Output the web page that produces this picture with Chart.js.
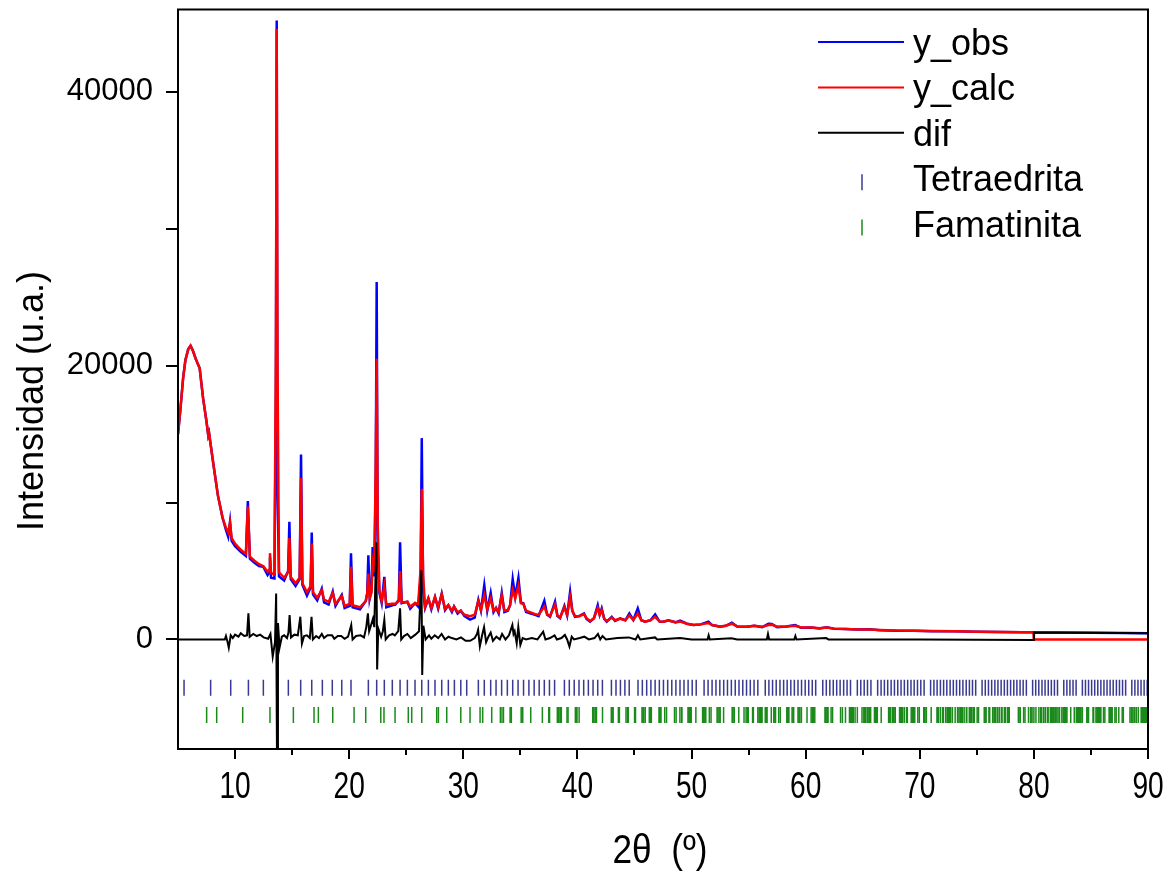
<!DOCTYPE html>
<html lang="es">
<head>
<meta charset="utf-8">
<title>Refinamiento Rietveld</title>
<script src="https://cdn.jsdelivr.net/npm/chart.js@4.4.1/dist/chart.umd.min.js"></script>
<style>
  html, body { margin: 0; padding: 0; background: #fff; }
  #wrap { width: 1171px; height: 873px; }
</style>
</head>
<body>
<div id="wrap"><canvas id="xrd" width="1171" height="873"></canvas></div>
<script>
// 2theta (deg) for the observed / calculated profiles
const twoTheta = [
  5.00, 5.20, 5.45, 5.65, 5.90, 6.10, 6.30, 6.55, 6.90, 7.20, 7.50, 7.65, 7.72, 7.85, 8.10, 8.50, 8.90,
  9.20, 9.40, 9.56, 9.70, 10.00, 10.50, 10.95, 11.12, 11.30, 11.70, 12.10, 12.48, 12.85, 13.00, 13.06,
  13.15, 13.45, 13.58, 13.65, 13.72, 13.85, 14.30, 14.65, 14.76, 14.88, 15.30, 15.66, 15.78, 15.90,
  16.30, 16.62, 16.72, 16.83, 17.20, 17.60, 17.80, 18.20, 18.56, 18.80, 19.35, 19.60, 20.05, 20.16,
  20.30, 20.95, 21.45, 21.58, 21.68, 21.80, 21.95, 22.06, 22.20, 22.33, 22.41, 22.50, 22.65, 22.85,
  23.08, 23.25, 23.78, 24.05, 24.35, 24.46, 24.60, 25.10, 25.35, 25.77, 26.05, 26.26, 26.36, 26.48,
  26.65, 26.94, 27.20, 27.52, 27.80, 28.11, 28.40, 28.69, 29.00, 29.19, 29.50, 29.78, 30.10, 30.59,
  31.00, 31.32, 31.55, 31.84, 32.10, 32.40, 32.65, 32.87, 33.10, 33.37, 33.60, 33.90, 34.10, 34.33,
  34.55, 34.83, 35.05, 35.26, 35.50, 35.85, 36.29, 36.60, 37.10, 37.35, 37.60, 38.04, 38.25, 38.48,
  38.86, 39.10, 39.36, 39.55, 39.79, 40.15, 40.58, 40.80, 41.11, 41.45, 41.78, 41.95, 42.13, 42.35,
  42.57, 43.01, 43.30, 43.74, 44.20, 44.55, 44.90, 45.29, 45.60, 45.93, 46.40, 46.81, 47.20, 47.53,
  47.97, 48.60, 49.00, 49.60, 50.17, 50.80, 51.48, 51.80, 52.50, 53.00, 53.53, 54.00, 54.84, 55.50,
  56.20, 56.74, 57.03, 57.50, 58.30, 59.08, 59.60, 60.50, 61.20, 61.85, 62.50, 63.50, 64.50, 65.60,
  66.50, 68.00, 69.50, 71.00, 73.00, 75.00, 77.00, 79.00, 79.97, 80.00, 82.00, 85.00, 88.00, 90.00
];

const yObs = [
  15000, 16700, 19100, 20400, 21200, 21450, 21100, 20500, 19800, 17600, 15900, 14900, 15100, 14300, 12800, 10500, 8900,
  8000, 7500, 8600, 7200, 6800, 6400, 6100, 10100, 5900, 5600, 5350, 5300, 4700, 4900, 6000,
  4500, 4450, 18000, 45200, 11000, 4600, 4300, 5000, 8600, 4400, 3900, 4400, 13500, 4000,
  3200, 3800, 7800, 3300, 2850, 3700, 2700, 2550, 3500, 2450, 3250, 2300, 2450, 6300,
  2350, 2200, 2800, 3400, 6150, 3000, 3600, 6750, 4600, 12000, 26100, 6500, 3400, 2650,
  4570, 2350, 2500, 2550, 2900, 7100, 2650, 2750, 2250, 2650, 2400, 4500, 14700, 3600,
  2300, 3000, 2200, 3100, 2250, 3350, 2150, 2500, 2000, 2400, 1900, 2100, 1700, 1450,
  1600, 2900, 2100, 3960, 2100, 3400, 2000, 2300, 1900, 3400, 2000, 2100, 2500, 4400,
  3100, 4500, 2700, 2650, 2000, 1900, 1800, 1700, 2820, 1800, 1650, 2750, 1700, 1550,
  2450, 1750, 3480, 2100, 1650, 1700, 1900, 1500, 1300, 1550, 2500, 1800, 2270, 1500,
  1300, 1650, 1350, 1540, 1400, 1900, 1420, 2270, 1400, 1290, 1400, 1830, 1300, 1290,
  1400, 1250, 1370, 1150, 1050, 1100, 1290, 1050, 930, 1000, 1220, 950, 930, 1000,
  900, 1150, 1130, 900, 950, 1050, 850, 880, 800, 890, 780, 760, 720, 740,
  680, 640, 640, 600, 590, 560, 550, 530, 520, 515, 500, 480, 470, 460
];

const yCalc = [
  15000, 16700, 19100, 20400, 21200, 21450, 21100, 20500, 19800, 17600, 15900, 14900, 15100, 14300, 12800, 10500, 8900,
  8150, 7800, 8500, 7400, 7000, 6550, 6250, 9700, 6050, 5750, 5500, 5350, 4950, 5100, 6300,
  4850, 4750, 21000, 44600, 20000, 4900, 4500, 4900, 7400, 4550, 4100, 4500, 11800, 4100,
  3450, 3900, 7000, 3450, 3050, 3600, 2900, 2750, 3400, 2600, 3150, 2450, 2600, 5300,
  2500, 2350, 2800, 3300, 4800, 3000, 3400, 5600, 4900, 13000, 20500, 8500, 3600, 2800,
  3900, 2550, 2600, 2600, 2800, 5000, 2700, 2750, 2400, 2650, 2600, 5200, 11000, 4600,
  2400, 3000, 2300, 3100, 2350, 3300, 2250, 2500, 2100, 2400, 2000, 2100, 1800, 1700,
  1800, 2800, 2150, 3240, 2200, 3000, 2100, 2300, 2000, 3200, 2100, 2150, 2500, 3600,
  3000, 3900, 2650, 2600, 2100, 2000, 1850, 1800, 2400, 1850, 1700, 2550, 1750, 1600,
  2350, 1800, 3100, 2100, 1700, 1700, 1850, 1550, 1350, 1550, 2300, 1800, 2150, 1500,
  1350, 1600, 1400, 1500, 1400, 1750, 1420, 1900, 1400, 1300, 1400, 1650, 1300, 1290,
  1380, 1250, 1300, 1150, 1050, 1100, 1200, 1050, 950, 1000, 1150, 950, 930, 1000,
  920, 1050, 1080, 920, 950, 1000, 870, 880, 820, 880, 790, 770, 730, 730,
  690, 650, 640, 610, 590, 570, 550, 530, 520, 0, 0, 0, 0, 0
];

// difference curve (obs - calc)
const difTheta = [
  5.00, 9.10, 9.20, 9.35, 9.45, 9.62, 9.80, 10.00, 10.30, 10.50, 10.80, 11.05, 11.17, 11.28, 11.60,
  11.90, 12.20, 12.50, 12.90, 13.10, 13.30, 13.50, 13.60, 13.68, 13.76, 13.90, 14.10, 14.30, 14.55,
  14.68, 14.78, 14.90, 15.20, 15.50, 15.72, 15.86, 16.05, 16.30, 16.55, 16.70, 16.82, 17.10, 17.35,
  17.60, 17.80, 18.10, 18.50, 18.70, 19.00, 19.30, 19.60, 19.90, 20.18, 20.30, 20.60, 21.00, 21.30,
  21.50, 21.64, 21.75, 21.90, 22.08, 22.20, 22.38, 22.45, 22.55, 22.80, 22.95, 23.08, 23.20, 23.50,
  23.80, 24.00, 24.30, 24.46, 24.56, 24.80, 25.10, 25.40, 25.80, 26.12, 26.33, 26.40, 26.50, 26.70,
  27.00, 27.20, 27.50, 27.80, 28.10, 28.40, 28.70, 29.00, 29.40, 29.80, 30.20, 30.60, 31.00, 31.20,
  31.30, 31.45, 31.65, 31.82, 32.00, 32.20, 32.40, 32.60, 32.90, 33.20, 33.40, 33.70, 34.00, 34.30,
  34.40, 34.50, 34.68, 34.82, 35.00, 35.20, 35.50, 36.00, 36.50, 37.00, 37.20, 37.60, 38.00, 38.20,
  38.60, 38.90, 39.10, 39.30, 39.50, 39.70, 40.20, 40.60, 41.00, 41.50, 41.80, 42.00, 42.20, 42.50,
  43.50, 44.50, 45.10, 45.30, 45.50, 46.80, 47.00, 48.00, 49.00, 50.00, 51.40, 51.50, 51.60, 53.50,
  54.00, 56.60, 56.70, 56.80, 59.00, 59.10, 59.20, 61.80, 62.00, 70.00, 79.97, 80.00, 85.00, 90.00
];
const difValues = [
  0, 0, 250, -200, -600, 300, 100, 350, 200, 450, 250, 300, 1900, 200, 400,
  250, 350, 150, 50, 400, -1250, -200, 3360, -9500, 1200, -600, 200, 300, 100,
  500, 1780, 150, 350, 300, 1660, -300, 250, 300, 100, 1660, 0, 250, 100,
  400, 100, 300, 300, 50, 250, 250, 50, 200, 1050, 0, 250, 300, 150,
  900, 1900, 600, 1000, 1500, 900, 7100, -2200, 800, 200, 600, 1420, 0, 300,
  400, 300, 600, 2270, 0, 250, 400, 100, 350, 600, 5050, -2600, 1000, 0,
  300, 50, 300, 100, 400, 0, 200, 100, 0, 150, -100, -100, 100, 400,
  700, -500, 300, 900, -200, 200, 500, -100, 200, 0, 400, 0, 300, 1050,
  400, 600, -280, 900, -400, 100, 0, 100, 0, 570, 0, 100, 300, 0,
  100, 330, 0, -520, 200, 0, 100, 200, 0, 100, 400, 0, 250, 0,
  100, 150, 0, 300, 0, 150, 0, 50, 100, 0, 0, 300, 0, 80,
  0, 0, 400, 0, 0, 250, 0, 100, 0, 0, -40, 500, 480, 460
];

// Bragg reflection positions (2theta, deg)
const tetraedritaPeaks = [
  5.53, 7.86, 9.62, 11.17, 12.48, 13.65, 14.67, 15.75, 16.72, 17.65, 18.52, 19.35, 20.16, 21.68, 22.41,
  23.08, 23.78, 24.46, 25.10, 25.77, 26.36, 26.94, 27.52, 28.11, 28.69, 29.22, 29.78, 30.30, 31.32, 31.84,
  32.40, 32.87, 33.36, 33.86, 34.33, 34.80, 35.28, 35.75, 36.21, 36.65, 37.10, 37.55, 38.00, 38.86, 39.29,
  39.72, 40.14, 40.55, 40.96, 41.37, 41.78, 42.19, 42.98, 43.38, 43.77, 44.16, 44.54, 45.31, 45.69, 46.07,
  46.44, 46.81, 47.18, 47.54, 47.91, 48.27, 48.63, 48.99, 49.34, 49.70, 50.06, 50.41, 51.10, 51.45, 51.80,
  52.14, 52.48, 52.82, 53.15, 53.49, 53.83, 54.16, 54.49, 54.82, 55.15, 55.48, 55.81, 56.46, 56.78, 57.10,
  57.42, 57.75, 58.07, 58.38, 58.70, 59.01, 59.33, 59.64, 59.96, 60.27, 60.58, 60.88, 61.50, 61.81, 62.12,
  62.42, 62.72, 63.02, 63.33, 63.63, 63.93, 64.53, 64.83, 65.13, 65.42, 65.72, 66.31, 66.61, 66.90, 67.19,
  67.49, 67.78, 68.07, 68.36, 68.65, 68.94, 69.23, 69.51, 69.80, 70.09, 70.38, 70.95, 71.24, 71.52, 71.81,
  72.09, 72.37, 72.66, 72.94, 73.22, 73.50, 73.78, 74.07, 74.35, 74.62, 74.90, 75.46, 75.74, 76.02, 76.30,
  76.58, 76.85, 77.13, 77.41, 77.68, 77.96, 78.24, 78.51, 78.79, 79.06, 79.34, 79.89, 80.16, 80.43, 80.71,
  80.98, 81.26, 81.53, 81.80, 82.07, 82.62, 82.89, 83.16, 83.43, 83.70, 84.25, 84.52, 84.79, 85.06, 85.33,
  85.60, 85.87, 86.14, 86.41, 86.68, 86.95, 87.23, 87.50, 87.77, 88.04, 88.58, 88.85, 89.12, 89.39, 89.66,
  89.93
];

const famatinitaPeaks = [
  7.51, 8.39, 10.67, 13.06, 13.65, 15.11, 16.92, 17.30, 18.56, 20.43, 21.45, 22.77, 23.05, 24.02, 25.18,
  25.48, 26.36, 27.67, 27.82, 28.55, 29.78, 30.59, 31.47, 31.70, 32.49, 33.25, 33.30, 33.49, 33.52, 34.10,
  34.18, 34.21, 35.07, 35.16, 35.21, 35.91, 36.93, 37.49, 37.56, 38.24, 38.34, 38.47, 38.52, 38.59, 39.09,
  39.18, 39.82, 39.91, 39.96, 40.15, 41.34, 41.43, 41.55, 41.60, 41.67, 42.20, 42.97, 43.10, 43.12, 43.59,
  43.68, 44.26, 44.39, 44.46, 45.01, 45.09, 45.66, 45.75, 45.79, 45.81, 45.94, 46.30, 46.40, 46.46, 46.48,
  47.15, 47.22, 47.27, 47.32, 47.65, 47.81, 48.51, 48.65, 48.98, 49.13, 49.15, 49.69, 49.77, 49.80, 49.91,
  49.97, 50.38, 50.97, 51.05, 51.11, 51.22, 51.24, 51.56, 51.71, 52.24, 52.32, 52.42, 52.51, 52.81, 53.56,
  53.61, 53.73, 53.75, 54.14, 54.60, 54.78, 54.88, 54.92, 54.97, 55.35, 55.42, 55.81, 55.92, 55.99, 56.03,
  56.15, 56.17, 56.46, 56.55, 56.62, 56.99, 57.21, 57.30, 57.36, 57.64, 57.78, 58.35, 58.40, 58.50, 58.52,
  58.81, 58.89, 58.95, 59.33, 59.43, 59.44, 59.60, 59.63, 60.12, 60.48, 60.58, 60.65, 60.68, 60.70, 60.80,
  61.71, 61.72, 61.78, 61.87, 61.91, 61.96, 62.23, 62.36, 63.06, 63.22, 63.49, 63.84, 63.94, 63.95, 64.04,
  64.10, 64.13, 64.18, 64.33, 64.53, 64.94, 65.10, 65.15, 65.25, 65.27, 65.43, 65.54, 65.62, 65.67, 65.69,
  66.03, 66.14, 66.23, 66.28, 66.62, 67.27, 67.32, 67.42, 67.59, 67.70, 67.83, 67.85, 68.23, 68.29, 68.34,
  68.37, 68.43, 68.46, 68.51, 68.66, 68.85, 68.91, 69.25, 69.34, 69.44, 69.45, 69.56, 69.83, 69.96, 70.35,
  70.40, 70.46, 70.58, 71.00, 71.51, 71.56, 71.65, 71.82, 72.01, 72.07, 72.27, 72.40, 72.44, 72.50, 72.55,
  72.58, 72.64, 72.71, 72.86, 73.10, 73.31, 73.43, 73.53, 73.59, 73.62, 73.64, 73.74, 73.89, 74.08, 74.12,
  74.34, 74.47, 74.51, 74.57, 74.70, 74.74, 74.78, 75.03, 75.15, 75.65, 75.79, 75.80, 76.06, 76.13, 76.39,
  76.51, 76.55, 76.61, 76.67, 76.83, 76.97, 77.15, 77.21, 77.41, 77.50, 77.68, 77.71, 77.73, 77.82, 77.84,
  78.64, 78.78, 78.81, 79.10, 79.22, 79.53, 79.71, 79.75, 79.84, 80.00, 80.18, 80.44, 80.60, 80.65, 80.66,
  80.83, 80.87, 81.01, 81.19, 81.25, 81.44, 81.54, 81.57, 81.66, 81.72, 81.75, 81.87, 81.88, 82.01, 82.12,
  82.25, 82.45, 82.57, 82.61, 82.67, 82.75, 82.80, 82.83, 82.87, 82.88, 83.23, 83.54, 83.72, 83.76, 83.85,
  83.87, 83.88, 84.01, 84.11, 84.23, 84.25, 84.65, 84.66, 84.74, 84.79, 85.18, 85.24, 85.44, 85.53, 85.56,
  85.65, 85.71, 85.73, 85.84, 85.86, 86.10, 86.22, 86.59, 86.65, 86.70, 86.78, 86.81, 86.86, 87.10, 87.21,
  87.44, 87.74, 87.84, 88.42, 88.54, 88.58, 88.68, 88.80, 88.84, 88.98, 89.15, 89.41, 89.43, 89.50, 89.62,
  89.68, 89.72, 89.81, 89.83, 89.84, 89.97
];

const xTicks = [10, 15, 20, 25, 30, 35, 40, 45, 50, 55, 60, 65, 70, 75, 80, 85, 90];
const xTickLabels = [10, 20, 30, 40, 50, 60, 70, 80, 90];
const yTicks = [0, 10000, 20000, 30000, 40000];
const yTickLabels = [0, 20000, 40000];

const SANS = '"Liberation Sans", Arial, sans-serif';

const toPoints = (xs, ys) => xs.map((x, i) => ({ x: x, y: ys[i] }));
const tickRow = (xs, level) => xs.map(x => ({ x: x, y: level }));
const fixedTicks = values => scale => { scale.ticks = values.map(v => ({ value: v })); };
const noPadding = extra => scale => {
  scale.paddingTop = scale.paddingBottom = scale.paddingLeft = scale.paddingRight = 0;
  extra(scale);
};

// horizontally condensed text, like a narrow face
function narrowText(ctx, text, x, y, size, squeeze) {
  ctx.save();
  ctx.translate(x, y);
  ctx.scale(squeeze, 1);
  ctx.font = size + 'px ' + SANS;
  ctx.fillText(text, 0, 0);
  ctx.restore();
}

// frame, tick marks, x labels, axis titles and the legend inside the plot
const decorations = {
  id: 'decorations',
  afterDraw(chart) {
    const { ctx, chartArea: a, scales } = chart;
    const xs = scales.x, ys = scales.y;
    ctx.save();
    ctx.strokeStyle = '#000';
    ctx.lineWidth = 2;
    ctx.strokeRect(a.left, a.top, a.right - a.left, a.bottom - a.top);

    ctx.beginPath();
    xs.ticks.forEach(t => {
      const px = Math.round(xs.getPixelForValue(t.value));
      const len = xTickLabels.includes(t.value) ? 10 : 6;
      ctx.moveTo(px, a.bottom);
      ctx.lineTo(px, a.bottom + len);
    });
    ys.ticks.forEach(t => {
      const py = Math.round(ys.getPixelForValue(t.value));
      ctx.moveTo(a.left, py);
      ctx.lineTo(a.left - 12, py);
    });
    ctx.stroke();

    ctx.fillStyle = '#000';
    ctx.textAlign = 'center';
    ctx.textBaseline = 'middle';
    xTickLabels.forEach(v => {
      narrowText(ctx, String(v), xs.getPixelForValue(v), 788, 36, 0.78);
    });
    narrowText(ctx, '2θ  (º)', 660, 852, 40, 0.88);

    ctx.save();
    ctx.translate(33, 401);
    ctx.rotate(-Math.PI / 2);
    ctx.font = '36px ' + SANS;
    ctx.fillText('Intensidad (u.a.)', 0, 0);
    ctx.restore();

    // legend
    ctx.font = '36px ' + SANS;
    ctx.textAlign = 'left';
    ctx.textBaseline = 'alphabetic';
    chart.data.datasets.forEach((ds, i) => {
      const base = 55 + i * 45.4;
      if (ds.showLine) {
        ctx.strokeStyle = ds.borderColor;
        ctx.lineWidth = 2;
        ctx.beginPath();
        ctx.moveTo(818, base - 13);
        ctx.lineTo(904, base - 13);
        ctx.stroke();
      } else {
        ctx.strokeStyle = ds.pointBorderColor;
        ctx.lineWidth = 1.5;
        ctx.beginPath();
        ctx.moveTo(862, base - 17);
        ctx.lineTo(862, base - 1);
        ctx.stroke();
      }
      ctx.fillStyle = '#000';
      ctx.fillText(ds.label, 913, base);
    });
    ctx.restore();
  }
};

new Chart(document.getElementById('xrd'), {
  type: 'scatter',
  data: {
    datasets: [
      {
        label: 'y_obs',
        data: toPoints(twoTheta, yObs),
        showLine: true,
        borderColor: '#0000ff',
        borderWidth: 2.5,
        pointRadius: 0,
        order: 2
      },
      {
        label: 'y_calc',
        data: toPoints(twoTheta, yCalc),
        showLine: true,
        borderColor: '#ff0000',
        borderWidth: 2.5,
        pointRadius: 0,
        order: 1
      },
      {
        label: 'dif',
        data: toPoints(difTheta, difValues),
        showLine: true,
        borderColor: '#000000',
        borderWidth: 2,
        pointRadius: 0,
        order: 0
      },
      {
        label: 'Tetraedrita',
        data: tickRow(tetraedritaPeaks, -3530),
        showLine: false,
        pointStyle: 'line',
        pointRotation: 90,
        pointRadius: 8,
        pointBorderWidth: 1.5,
        pointBorderColor: '#3a3a92',
        order: 3
      },
      {
        label: 'Famatinita',
        data: tickRow(famatinitaPeaks, -5510),
        showLine: false,
        pointStyle: 'line',
        pointRotation: 90,
        pointRadius: 8,
        pointBorderWidth: 1.5,
        pointBorderColor: '#1a8a1a',
        order: 4
      }
    ]
  },
  options: {
    responsive: false,
    animation: false,
    events: [],
    parsing: false,
    layout: { padding: { top: 7, right: 23, left: 0, bottom: 0 } },
    plugins: {
      legend: { display: false },
      tooltip: { enabled: false }
    },
    scales: {
      x: {
        type: 'linear',
        min: 5,
        max: 90,
        grid: { display: false },
        border: { display: false },
        ticks: { display: false },
        afterBuildTicks: fixedTicks(xTicks),
        afterFit: noPadding(s => { s.height = 124; })
      },
      y: {
        min: -8000,
        max: 46000,
        grid: { display: false },
        border: { display: false },
        ticks: {
          padding: 17,
          color: '#000',
          font: { family: SANS, size: 31 },
          callback: v => yTickLabels.includes(v) ? String(v) : ''
        },
        afterBuildTicks: fixedTicks(yTicks),
        afterFit: noPadding(s => { s.width = 178; })
      }
    }
  },
  plugins: [decorations]
});
</script>
</body>
</html>
